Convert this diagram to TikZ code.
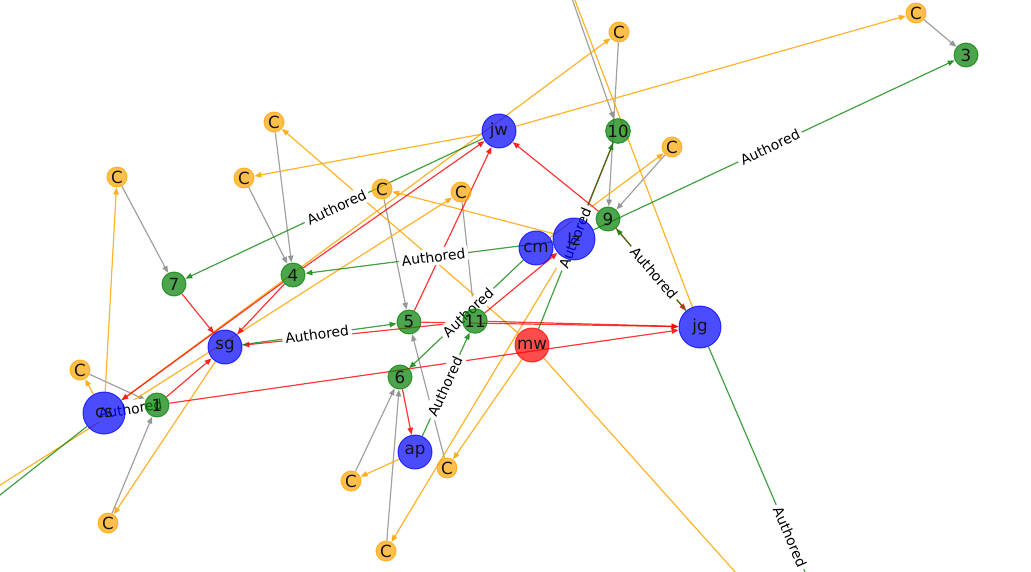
\documentclass[tikz,border=0pt]{standalone}
\usepackage{fontspec}
\setmainfont{DejaVu Sans}
\usetikzlibrary{arrows.meta}
\pgfdeclarelayer{bglayer}
\pgfdeclarelayer{edgelayer}
\pgfdeclarelayer{labellayer}
\pgfsetlayers{bglayer,edgelayer,labellayer,main}
\definecolor{mplblue}{RGB}{0,0,255}
\definecolor{mplgreen}{RGB}{0,128,0}
\definecolor{mplorange}{RGB}{255,165,0}
\definecolor{mplred}{RGB}{255,0,0}
\definecolor{mplgray}{RGB}{128,128,128}
\definecolor{labeltext}{RGB}{20,20,20}
\begin{document}
\begin{tikzpicture}[x=1pt,y=-1pt,
  vert/.style={circle,inner sep=0pt,line width=1pt,fill opacity=0.7,draw opacity=0.7,text opacity=1,
    text=labeltext,font=\fontsize{16.7}{18}\selectfont},
  cnode/.style={vert,fill=mplorange,draw=mplorange,minimum size=20pt},
  pnode/.style={vert,fill=mplgreen,draw=mplgreen,minimum size=24pt},
  anode/.style={vert,fill=mplblue,draw=mplblue,minimum size=34pt},
  bignode/.style={vert,fill=mplblue,draw=mplblue,minimum size=42pt},
  mnode/.style={vert,fill=mplred,draw=mplred,minimum size=34pt},
  conn/.style={line width=1.2pt,-{Triangle[length=7pt,width=5.5pt]}},
  grayedge/.style={conn,draw=mplgray,fill=mplgray,draw opacity=0.7,fill opacity=0.7},
  orangeedge/.style={conn,draw=mplorange,fill=mplorange,draw opacity=0.8,fill opacity=0.8},
  rededge/.style={conn,draw=mplred,fill=mplred,draw opacity=0.75,fill opacity=0.75},
  greenedge/.style={conn,draw=mplgreen,fill=mplgreen,draw opacity=0.7,fill opacity=0.7},
  lab/.style={fill=white,rounded corners=3pt,inner sep=3pt,text=black,font=\fontsize{13.9}{15}\selectfont}
]
\useasboundingbox (0,0) rectangle (1031,572);
\begin{pgfonlayer}{bglayer}
\fill[white] (0,0) rectangle (1031,572);
\end{pgfonlayer}

% nodes
\node[cnode] (c1) at (916,13) {C};
\node[pnode] (n3) at (966,55) {3};
\node[cnode] (c2) at (619,32) {C};
\node[pnode] (n10) at (618,131) {10};
\node[cnode] (c3) at (672,147) {C};
\node[pnode] (n9) at (608,219) {9};
\node[anode] (jw) at (499,131) {jw};
\node[cnode] (c4) at (274,122) {C};
\node[cnode] (c5) at (244,178) {C};
\node[cnode] (c6) at (117,177) {C};
\node[cnode] (c7) at (382,189) {C};
\node[cnode] (c8) at (461,192) {C};
\node[pnode] (n4) at (293,275) {4};
\node[pnode] (n7) at (174,284) {7};
\node[anode] (cm) at (536,248) {cm};
\node[bignode] (lz) at (574,239) {lz};
\node[pnode] (n5) at (409,322) {5};
\node[pnode] (n11) at (475,321) {11};
\node[mnode] (mw) at (532,345) {mw};
\node[bignode] (jg) at (700,327) {jg};
\node[anode] (sg) at (225,347) {sg};
\node[cnode] (c9) at (80,370) {C};
\node[bignode] (cs) at (104,413) {cs};
\node[pnode] (n1) at (157,405) {1};
\node[pnode] (n6) at (400,377) {6};
\node[anode] (ap) at (415,452) {ap};
\node[cnode] (c10) at (351,481) {C};
\node[cnode] (c11) at (447,468) {C};
\node[cnode] (c12) at (108,523) {C};
\node[cnode] (c13) at (386,551) {C};

% off-canvas ends
\coordinate (ctop) at (550,-65);
\coordinate (xbl) at (-69,529);
\coordinate (xcs) at (-312,741);
\coordinate (xbr) at (796,640);
\coordinate (xjg) at (880,747);

\begin{pgfonlayer}{edgelayer}
% gray
\draw[grayedge] (c1) -- (n3);
\draw[grayedge] (c2) -- (n9);
\draw[grayedge] (c3) -- (n9);
\draw[grayedge] (ctop) -- (n10);
\draw[grayedge] (c4) -- (n4);
\draw[grayedge] (c5) -- (n4);
\draw[grayedge] (c6) -- (n7);
\draw[grayedge] (c7) -- (n5);
\draw[grayedge] (c8) -- (n11);
\draw[grayedge] (c9) -- (n1);
\draw[grayedge] (c12) -- (n1);
\draw[grayedge] (c10) -- (n6);
\draw[grayedge] (c13) -- (n6);
\draw[grayedge] (c11) -- (n5);
% orange
\draw[orangeedge] (jw) -- (c1);
\draw[orangeedge] (cs) -- (c2);
\draw[orangeedge] (jw) -- (c5);
\draw[orangeedge] (cm) -- (c3);
\draw[orangeedge] (lz) -- (c7);
\draw[orangeedge] (lz) -- (c13);
\draw[orangeedge] (mw) -- (c11);
\draw[orangeedge] (mw) -- (c4);
\draw[orangeedge] (mw) -- (xbr);
\draw[orangeedge] (jg) -- (ctop);
\draw[orangeedge] (ap) -- (c10);
\draw[orangeedge] (sg) -- (c12);
\draw[orangeedge] (cs) -- (c9);
\draw[orangeedge] (cs) -- (c6);
\draw[orangeedge] (xbl) -- (c8);
% red
\draw[rededge] (n7) -- (sg);
\draw[rededge] (n4) -- (sg);
\draw[rededge] (n4) -- (cs);
\draw[rededge] (n4) -- (jw);
\draw[rededge] (n1) -- (sg);
\draw[rededge] (n1) -- (jg);
\draw[rededge] (n11) -- (sg);
\draw[rededge] (n5) -- (jg);
\draw[rededge] (n11) -- (jg);
\draw[rededge] (n5) -- (jw);
\draw[rededge] (n9) -- (jw);
\draw[rededge] (n9) -- (jg);
\draw[rededge] (n11) -- (lz);
\draw[rededge] (n6) -- (ap);
\draw[rededge] (n10) -- (lz);
% green
\draw[greenedge] (jw) -- (n7);
\draw[greenedge] (lz) -- (n4);
\draw[greenedge] (sg) -- (n5);
\draw[greenedge] (cm) -- (n6);
\draw[greenedge] (ap) -- (n11);
\draw[greenedge] (cs) -- (n1);
\draw[greenedge] (mw) -- (n10);
\draw[greenedge] (lz) -- (n3);
\draw[greenedge] (jg) -- (n9);
\draw[greenedge] (jg) -- (xjg);
\draw[greenedge] (cs) -- (xcs);
\end{pgfonlayer}

\begin{pgfonlayer}{labellayer}
\path (jw.center) -- (n7.center) node[lab,midway,sloped] (l1) {Authored};
\path (lz.center) -- (n4.center) node[lab,midway,sloped] (l2) {Authored};
\path (sg.center) -- (n5.center) node[lab,midway,sloped] (l3) {Authored};
\path (cm.center) -- (n6.center) node[lab,midway,sloped] (l4) {Authored};
\path (ap.center) -- (n11.center) node[lab,midway,sloped] (l5) {Authored};
\path (cs.center) -- (n1.center) node[lab,midway,sloped] (l6) {Authored};
\path (mw.center) -- (n10.center) node[lab,midway,sloped] (l7) {Authored};
\path (lz.center) -- (n3.center) node[lab,midway,sloped] (l8) {Authored};
\path (jg.center) -- (n9.center) node[lab,midway,sloped] (l9) {Authored};
\path (jg.center) -- (xjg) node[lab,midway,sloped] (l10) {Authored};
\end{pgfonlayer}
\end{tikzpicture}
\end{document}
